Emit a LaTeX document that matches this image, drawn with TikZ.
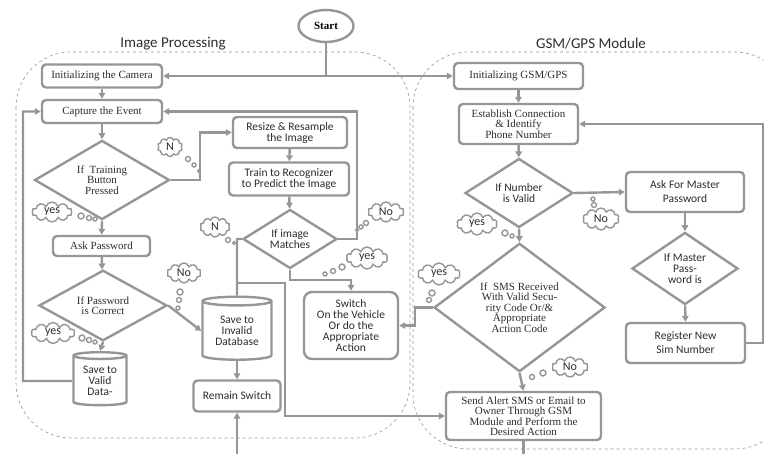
\documentclass[tikz,border=0pt]{standalone}
\usepackage{fontspec}
\setmainfont{Liberation Serif}
\setsansfont{Carlito}
\usepackage{tikz}
\usetikzlibrary{arrows.meta,shapes.geometric,shapes.symbols}
\definecolor{lgray}{RGB}{150,150,150}
\definecolor{tgray}{RGB}{45,45,45}

\begin{document}
\begin{tikzpicture}[x=1pt,y=-1pt,
		box/.style={draw=lgray, line width=2.4pt, rounded corners=4pt, fill=white, align=center, inner sep=1pt, text=tgray},
		rmtxt/.style={font=\fontsize{11}{10.5}\selectfont\rmfamily},
		sftxt/.style={font=\fontsize{11.5}{11}\selectfont\sffamily},
		dia/.style={diamond, draw=lgray, line width=2.4pt, fill=white, inner sep=0pt, align=center, text=tgray},
		can/.style={cylinder, shape border rotate=90, aspect=0.2, draw=lgray, line width=2.4pt, fill=white, inner sep=0pt, align=center, text=tgray},
		ln/.style={draw=lgray, line width=2.4pt},
		arr/.style={draw=lgray, line width=2.4pt, -{Triangle[length=6pt,width=6.5pt]}},
		bubble/.style={cloud, cloud puffs=10, cloud ignores aspect, draw=lgray, line width=1.4pt, fill=white, inner sep=0pt, text=tgray, font=\fontsize{12}{12}\selectfont\sffamily},
		trail/.style={draw=lgray, line width=1.4pt, fill=white},
		zone/.style={draw=lgray, dashed, line width=0.6pt, rounded corners=55pt},
		title/.style={text=tgray, font=\fontsize{15}{15}\selectfont\sffamily}]
		\useasboundingbox (0,0) rectangle (764,454);
		\draw[zone] (16,52) rectangle (410,438);
		\draw[zone] (413,52) rectangle (790,449);
		\node[title] (imgtitle) at (173,44) {Image Processing};
		\node[title] (gsmtitle) at (591,44) {GSM/GPS Module};

		\node[ellipse, draw=lgray, line width=2.4pt, minimum width=55pt, minimum height=32pt, inner sep=0pt, font=\fontsize{11}{11}\selectfont\rmfamily\bfseries] (start) at (326,26) {Start};
		\coordinate (split) at (326,76);

		\node[box, rmtxt, minimum width=120pt, minimum height=23pt] (cam) at (102,76) {Initializing the Camera};
		\node[box, rmtxt, minimum width=120pt, minimum height=23pt] (cap) at (102,111.5) {Capture the Event};
		\node[dia, rmtxt, minimum width=135pt, minimum height=70pt] (train) at (102,180) {If~ Training\\Button\\Pressed};
		\node[box, rmtxt, minimum width=97pt, minimum height=20pt] (ask) at (101.5,246) {Ask Password};
		\node[dia, rmtxt, minimum width=128pt, minimum height=63pt] (pwd) at (103,305.5) {If Password\\is Correct};
		\node[can, sftxt, minimum width=53pt, minimum height=53pt] (valid) at (100,381) {Save to\\Valid\\Data-};
		\node[box, sftxt, minimum width=114pt, minimum height=31pt] (resize) at (290,132.5) {Resize \& Resample\\the Image};
		\node[box, sftxt, minimum width=120pt, minimum height=33pt] (learn) at (289,179) {Train to Recognizer\\to Predict the Image};
		\node[dia, sftxt, minimum width=94pt, minimum height=58pt] (match) at (290,239) {If image\\Matches};
		\node[can, sftxt, minimum width=69pt, minimum height=63pt] (invalid) at (237,331) {Save to\\Invalid\\Database};
		\node[box, sftxt, minimum width=87pt, minimum height=31pt] (remain) at (237,396) {Remain Switch};
		\node[box, sftxt, rounded corners=8pt, minimum width=94pt, minimum height=67pt] (switch) at (351,325.5) {Switch\\On the Vehicle\\Or do the\\Appropriate\\Action};

		\node[box, rmtxt, minimum width=129pt, minimum height=26pt] (gsm) at (518.5,76) {Initializing GSM/GPS};
		\node[box, rmtxt, minimum width=119pt, minimum height=40pt] (conn) at (518.5,124) {Establish Connection\\\& Identify\\Phone Number};
		\node[dia, sftxt, minimum width=108pt, minimum height=69pt] (num) at (519,193) {If Number\\is Valid};
		\node[box, font=\fontsize{11.5}{14}\selectfont\sffamily, minimum width=118pt, minimum height=40pt] (master) at (685,192) {Ask For Master\\Password};
		\node[dia, sftxt, minimum width=106pt, minimum height=71pt] (mpw) at (685,268.5) {If Master\\Pass-\\word is};
		\node[box, font=\fontsize{11.5}{14}\selectfont\sffamily, minimum width=119pt, minimum height=40pt] (reg) at (685.5,343) {Register New\\Sim Number};
		\node[dia, rmtxt, minimum width=171pt, minimum height=111pt] (sms) at (519.5,307.5) {If~ SMS Received\\With Valid Secu-\\rity Code Or/\&\\Appropriate\\Action Code};
		\node[box, rmtxt, minimum width=155pt, minimum height=48pt] (alert) at (523.5,416) {Send Alert SMS or Email to\\Owner Through GSM\\Module and Perform the\\Desired Action};

		\coordinate (feed) at (237,454);
		\coordinate (fork) at (237,283);
		\coordinate (out) at (523.5,454);

		\draw[ln] (start) -- (split);
		\draw[arr] (split) -- (cam.east);
		\draw[arr] (split) -- (gsm.west);
		\draw[arr] (cam) -- (cap);
		\draw[arr] (cap) -- (train);
		\draw[arr] (train.east) -- (200,180) |- (resize.west);
		\draw[arr] (resize) -- (learn);
		\draw[arr] (learn) -- (match);
		\draw[arr] (match.east) -- (357,239) |- (cap.east);
		\draw[ln] (match.west) -- (237,239) -- (invalid.north);
		\draw[arr] (match.south) -- (290,280) -| (switch.north);
		\draw[arr] (fork) -| (285,416) -- (alert.west);
		\draw[arr] (invalid) -- (remain);
		\draw[arr] (feed) -- (remain.south);
		\draw[arr] (train.south) -- (ask);
		\draw[arr] (ask) -- (pwd);
		\draw[arr] (pwd.east) -- (invalid.west);
		\draw[arr] (pwd.south) -- (valid.north);
		\draw[arr] (valid.west) -- (23,381) |- (cap.west);

		\draw[arr] (gsm) -- (conn);
		\draw[arr] (conn) -- (num);
		\draw[arr] (num.east) -- (master.west);
		\draw[arr] (master) -- (mpw);
		\draw[arr] (mpw) -- (reg);
		\draw[arr] (reg.east) -- (763,343) |- (conn.east);
		\draw[arr] (num.south) -- (sms.north);
		\draw[arr] (sms.west) -- (415,307.5) |- (switch.east);
		\draw[arr] (sms.south) -- (alert.north);
		\draw[ln] (alert.south) -- (out);

		\node[bubble, minimum width=25pt, minimum height=19pt] (n1) at (170,147) {N};
		\draw[trail] (188,159) circle (2.5) (194,165) circle (2) (199,171) circle (1.5);
		\node[bubble, minimum width=40pt, minimum height=20pt] (yes1) at (52,212) {yes};
		\draw[trail] (81,216) circle (3) (89,218) circle (2.5) (95,219) circle (2);
		\node[bubble, minimum width=36pt, minimum height=20pt] (no1) at (386,212) {No};
		\draw[trail] (366,223) circle (2.5) (361,227) circle (2) (357,230) circle (1.5);
		\node[bubble, minimum width=30pt, minimum height=20pt] (n2) at (215,227) {N};
		\draw[trail] (228,240) circle (2.5) (234,243) circle (1.5);
		\node[bubble, minimum width=41pt, minimum height=22pt] (yes2) at (367,258) {yes};
		\draw[trail] (342,267) circle (3) (333,271) circle (2.5) (325,274) circle (2);
		\node[bubble, minimum width=34pt, minimum height=20pt] (no2) at (184,273) {No};
		\draw[trail] (180,292) circle (3) (179,300) circle (2.5) (178,308) circle (2);
		\node[bubble, minimum width=43pt, minimum height=21pt] (yes3) at (53,333) {yes};
		\draw[trail] (82,338) circle (3) (89,340) circle (2.5) (95,342) circle (2);

		\node[bubble, minimum width=40pt, minimum height=22pt] (yes4) at (477,224) {yes};
		\draw[trail] (505,233) circle (3) (512,236) circle (2);
		\node[bubble, minimum width=36pt, minimum height=22pt] (no3) at (601,219) {No};
		\draw[trail] (593,199) circle (2) (594,205) circle (2.5);
		\node[bubble, minimum width=42pt, minimum height=22pt] (yes5) at (439,274) {yes};
		\draw[trail] (432,293) circle (3) (429,300) circle (2.5);
		\node[bubble, minimum width=36pt, minimum height=20pt] (no4) at (570,367) {No};
		\draw[trail] (543,373) circle (3) (532,377) circle (2.5);
\end{tikzpicture}
\end{document}
